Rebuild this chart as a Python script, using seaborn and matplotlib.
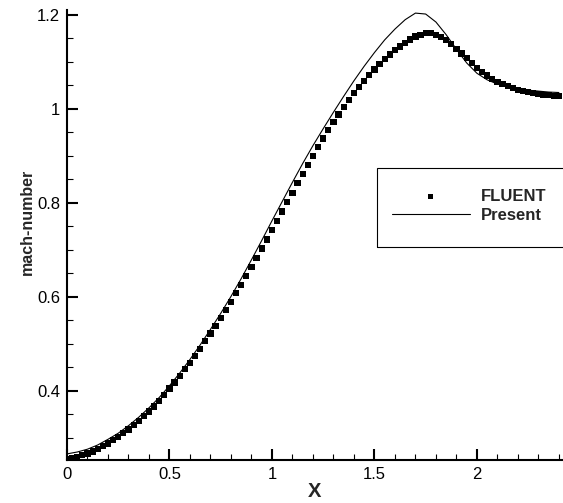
import matplotlib
matplotlib.use("Agg")
import matplotlib.pyplot as plt
from matplotlib.patches import Rectangle
from matplotlib.ticker import MultipleLocator, FormatStrFormatter
import seaborn as sns
import pandas as pd

# FLUENT solution, sampled every 0.025 along the axis
fluent_x = [round(0.025 * i, 3) for i in range(97)]
fluent_mach = [
    0.255, 0.257, 0.260, 0.263, 0.267, 0.271, 0.276, 0.282, 0.288, 0.295,
    0.302, 0.310, 0.318, 0.327, 0.336, 0.346, 0.356, 0.367, 0.379, 0.392,
    0.405, 0.418, 0.432, 0.446, 0.460, 0.475, 0.490, 0.506, 0.522, 0.538,
    0.555, 0.572, 0.590, 0.608, 0.626, 0.645, 0.664, 0.683, 0.703, 0.722,
    0.742, 0.762, 0.782, 0.802, 0.822, 0.842, 0.862, 0.881, 0.900, 0.919,
    0.937, 0.955, 0.972, 0.988, 1.004, 1.019, 1.034, 1.047, 1.060, 1.072,
    1.084, 1.095, 1.106, 1.116, 1.125, 1.133, 1.141, 1.148, 1.154, 1.158,
    1.161, 1.161, 1.158, 1.153, 1.146, 1.138, 1.128, 1.118, 1.108, 1.098,
    1.088, 1.079, 1.071, 1.064, 1.058, 1.053, 1.049, 1.045, 1.041, 1.038,
    1.036, 1.034, 1.032, 1.030, 1.029, 1.028, 1.027,
]

# Present solver, sampled every 0.05
present_x = [round(0.05 * i, 2) for i in range(49)]
present_mach = [
    0.266, 0.270, 0.276, 0.285, 0.297, 0.310, 0.326, 0.344, 0.364, 0.386,
    0.411, 0.438, 0.467, 0.498, 0.531, 0.565, 0.601, 0.639, 0.679, 0.720,
    0.762, 0.803, 0.844, 0.884, 0.922, 0.958, 0.993, 1.027, 1.060, 1.091,
    1.120, 1.147, 1.170, 1.190, 1.204, 1.202, 1.185, 1.158, 1.127, 1.098,
    1.076, 1.062, 1.053, 1.047, 1.043, 1.040, 1.038, 1.036, 1.035,
]

series_labels = ["FLUENT", "Present"]
x_label = "X"
y_label = "mach-number"

fluent_df = pd.DataFrame({"x": fluent_x, "mach": fluent_mach})
present_df = pd.DataFrame({"x": present_x, "mach": present_mach})

sns.set_style("ticks")
plt.rcParams["font.family"] = ["Liberation Sans", "DejaVu Sans"]

W, H = 563, 503
fig = plt.figure(figsize=(W / 100, H / 100), dpi=100)
ax = fig.add_axes([67 / W, 43 / H, 496 / W, 450 / H])

sns.scatterplot(data=fluent_df, x="x", y="mach", ax=ax, marker="s", s=20,
                color="black", edgecolor="none", linewidth=0,
                label=series_labels[0], zorder=3)
sns.lineplot(data=present_df, x="x", y="mach", ax=ax, color="black",
             linewidth=0.8, label=series_labels[1], zorder=2)

ax.set_xlim(0, 2.42)
ax.set_ylim(0.253, 1.2106)

ax.xaxis.set_major_locator(MultipleLocator(0.5))
ax.xaxis.set_minor_locator(MultipleLocator(0.1))
ax.yaxis.set_major_locator(MultipleLocator(0.2))
ax.yaxis.set_minor_locator(MultipleLocator(0.05))
ax.xaxis.set_major_formatter(FormatStrFormatter("%g"))
ax.yaxis.set_major_formatter(FormatStrFormatter("%g"))

for side in ("top", "right"):
    ax.spines[side].set_visible(False)
for side in ("left", "bottom"):
    ax.spines[side].set_linewidth(1.5)
    ax.spines[side].set_color("black")

ax.tick_params(which="major", direction="in", length=8, width=1.5,
               labelsize=12, pad=5, colors="black")
ax.tick_params(which="minor", direction="in", length=4.5, width=0.8,
               colors="black")

ax.set_xlabel(x_label, fontsize=14.5, fontweight="bold", va="top")
ax.set_ylabel(y_label, fontsize=11.5, fontweight="bold")
ax.xaxis.set_label_coords(0.5, -0.048)
ax.yaxis.set_label_coords(-0.064, 0.53)

# legend box
ax.add_patch(Rectangle((0.625, 0.4733), 0.4, 0.1756, transform=ax.transAxes,
                       fill=False, edgecolor="black", linewidth=0.8,
                       clip_on=False, zorder=5))
leg = ax.legend(loc="upper left", bbox_to_anchor=(0.655, 0.603),
                frameon=False, borderpad=0, borderaxespad=0,
                handlelength=4.67, handletextpad=0.66, labelspacing=0.25,
                markerscale=0.75,
                prop={"weight": "bold", "size": 12,
                      "family": ["Liberation Sans", "DejaVu Sans"]})

fig.savefig("out.png", dpi=100)
